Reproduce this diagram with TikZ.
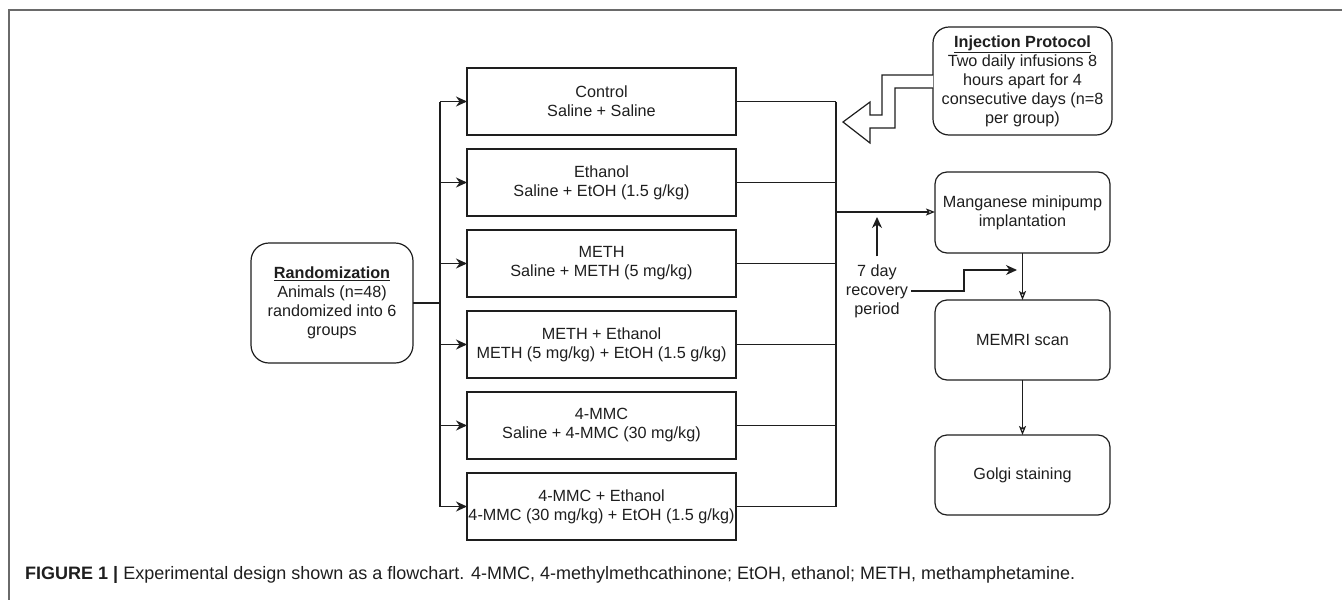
\documentclass[tikz,border=0pt]{standalone}
\usepackage{fontspec}
\setmainfont{Liberation Sans}
\newfontfamily\capfont{Liberation Sans}
\usetikzlibrary{arrows.meta}
\definecolor{ink}{HTML}{1E1E1E}
\definecolor{framegray}{HTML}{6A6A6A}
\tikzset{
  boxtext/.style={font=\fontsize{16.2}{19}\selectfont, align=center, text=ink},
  groupbox/.style={boxtext, draw=ink, line width=1.2pt, minimum width=269pt,
    minimum height=67pt, inner sep=0pt, outer sep=0pt},
  roundbox/.style={boxtext, draw=ink, line width=1.2pt, rounded corners=12pt,
    minimum width=175pt, minimum height=80pt, inner sep=0pt, outer sep=0pt},
  link/.style={draw=ink, line width=1.2pt},
  feed/.style={link, -{Stealth[length=11pt, width=10pt, inset=3.5pt]}},
  step open/.style={link, -{Stealth[open, length=9pt, width=7pt, inset=2pt]}}
}
\begin{document}
\begin{tikzpicture}[x=1pt, y=-1pt]
\useasboundingbox (0,0) rectangle (1342,600);

% page frame (top and left rules)
\draw[framegray, line width=1.5pt] (1342,10) -- (9,10) -- (9,600);

% randomization
\node[roundbox, rounded corners=18pt, minimum width=162pt, minimum height=120pt]
  (rand) at (332,303)
  {\underline{\textbf{Randomization}}\\Animals (n=48)\\randomized into 6\\groups};

% treatment groups
\node[groupbox] (g1) at (601.5,101.5) {Control\\Saline + Saline};
\node[groupbox] (g2) at (601.5,182.5) {Ethanol\\Saline + EtOH (1.5 g/kg)};
\node[groupbox] (g3) at (601.5,263.5) {METH\\Saline + METH (5 mg/kg)};
\node[groupbox] (g4) at (601.5,344.5) {METH + Ethanol\\METH (5 mg/kg) + EtOH (1.5 g/kg)};
\node[groupbox] (g5) at (601.5,425.5) {4-MMC\\Saline + 4-MMC (30 mg/kg)};
\node[groupbox] (g6) at (601.5,506.5) {4-MMC + Ethanol\\4-MMC (30 mg/kg) + EtOH (1.5 g/kg)};

% split bus
\coordinate (split) at (440,303);
\draw[link] (rand.east) -- (split);
\draw[link] (440,101.5) -- (440,506.5);
\foreach \g in {g1,g2,g3,g4,g5,g6}
  \draw[feed] (\g.west -| split) -- (\g.west);

% merge bus
\coordinate (merge) at (836,212);
\foreach \g in {g1,g2,g3,g4,g5,g6}
  \draw[link] (\g.east) -- (\g.east -| merge);
\draw[link] (836,101.5) -- (836,506.5);

% right column
\node[roundbox, rounded corners=16pt, minimum width=179pt, minimum height=108pt]
  (inj) at (1022.5,81)
  {\underline{\textbf{Injection Protocol}}\\Two daily infusions 8\\hours apart for 4\\consecutive days (n=8\\per group)};
\node[roundbox, minimum height=81pt] (mn) at (1022.5,212.5) {Manganese minipump\\implantation};
\node[roundbox] (memri) at (1022.5,340) {MEMRI scan};
\node[roundbox] (golgi) at (1022.5,475) {Golgi staining};

\draw[step open] (merge) -- (mn.west |- merge);
\draw[step open] (mn.south) -- (memri.north);
\draw[step open] (memri.south) -- (golgi.north);

% bent hollow arrow from the protocol box
\draw[ink, line width=1.2pt, fill=white]
  (inj.west |- 0,75) -- (882,75) -- (882,115) -- (870,115) -- (870,102)
  -- (843,122) -- (870,143) -- (870,128) -- (895,128) -- (895,88)
  -- (inj.west |- 0,88);

% recovery period label and its arrows
\node[boxtext, inner sep=3pt] (rec) at (877,291) {7 day\\recovery\\period};
\coordinate (upTip) at (877,217);
\coordinate (bend) at (964,270);
\coordinate (recTip) at (1017,270);
\draw[feed] ([yshift=5pt]rec.north) -- (upTip);
\draw[feed] (rec.east) -| (bend) -- (recTip);

% caption
\node[anchor=base west, inner sep=0pt, font=\capfont\fontsize{18}{21}\selectfont, text=ink]
  (cap) at (25,579)
  {\textbf{FIGURE 1 |} Experimental design shown as a flowchart. 4-MMC, 4-methylmethcathinone; EtOH, ethanol; METH, methamphetamine.};
\end{tikzpicture}
\end{document}
